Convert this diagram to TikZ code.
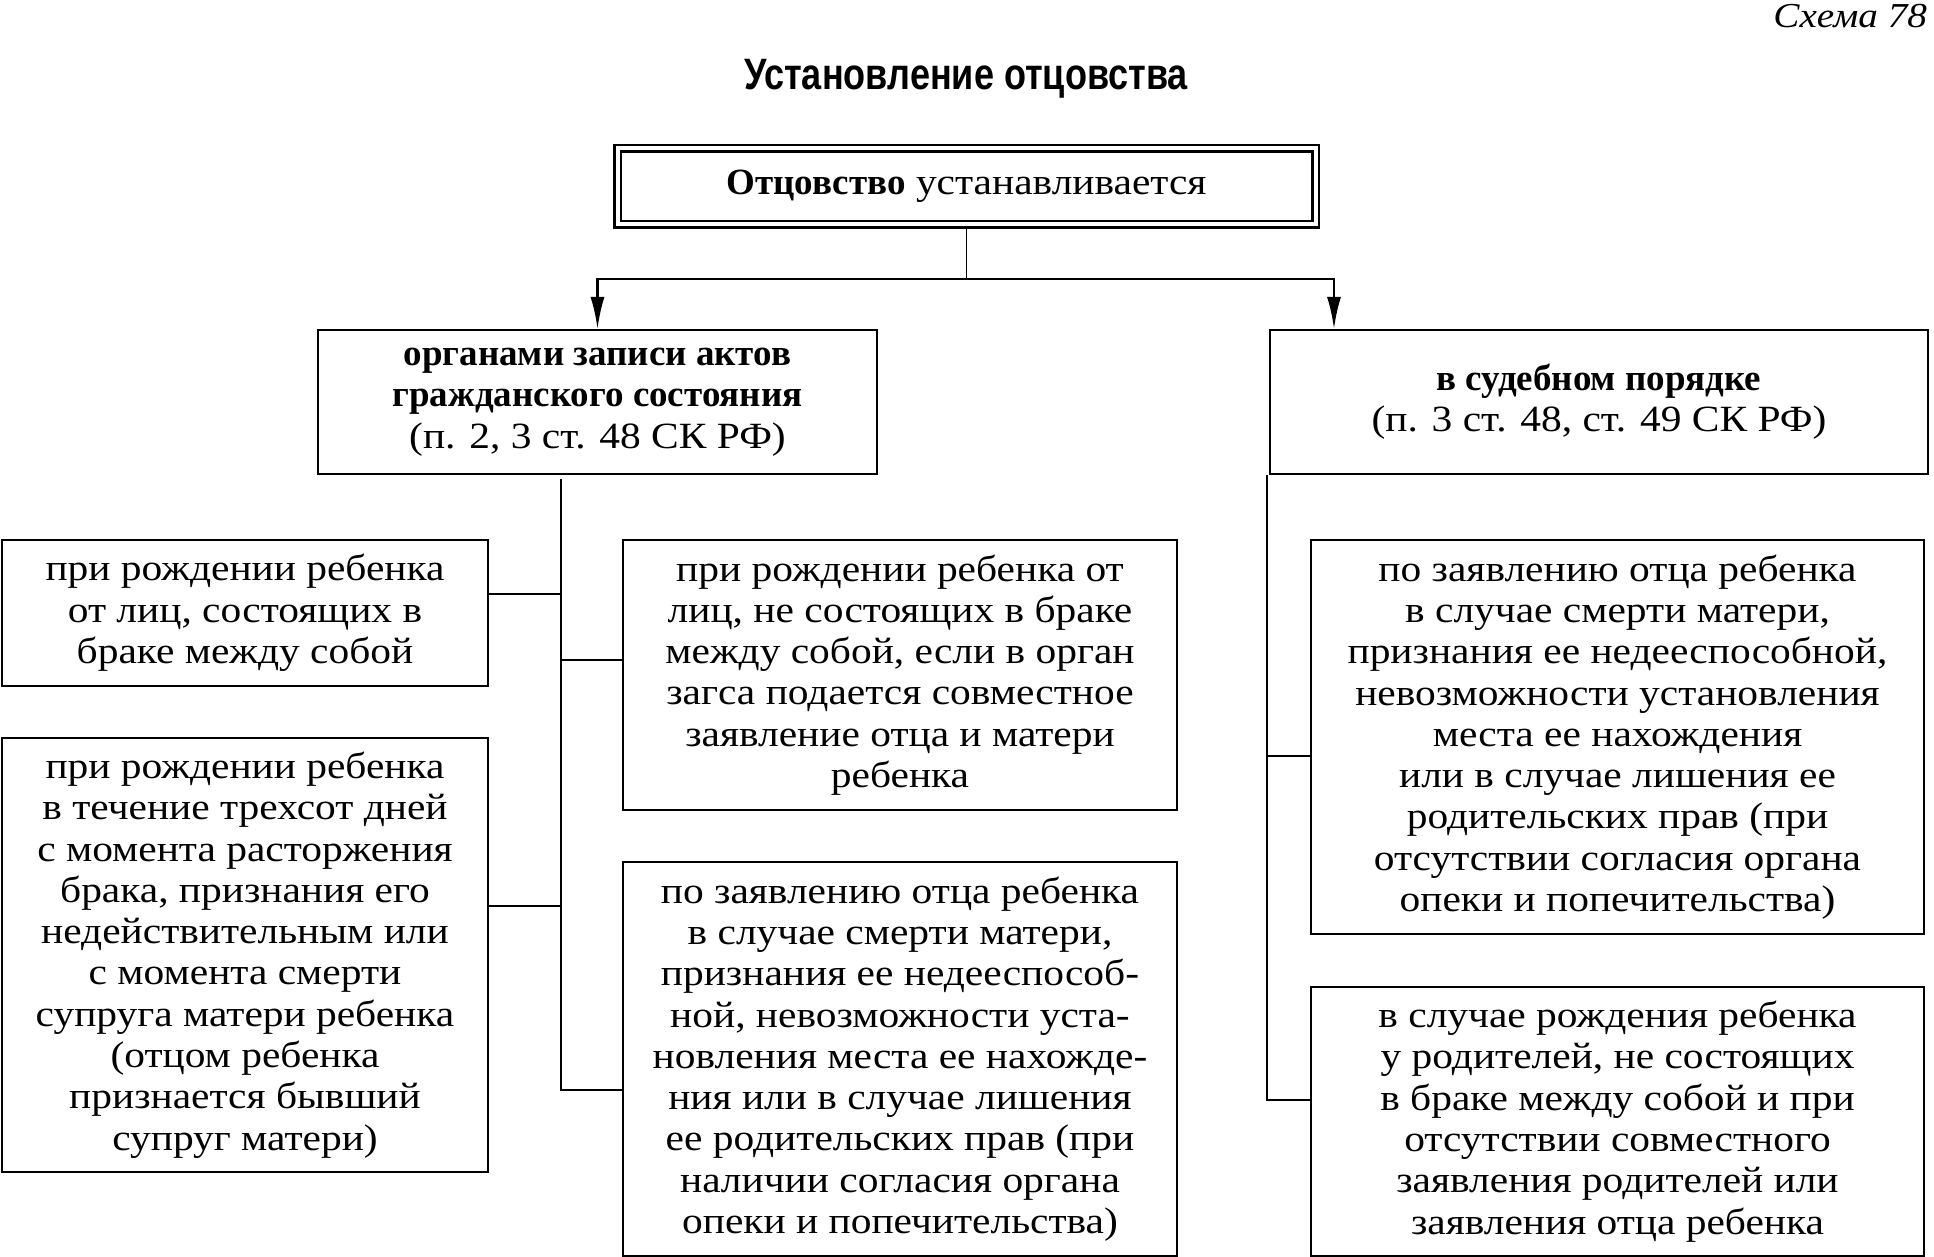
\documentclass[tikz,border=0pt]{standalone}
\usepackage{fontspec}
\setmainfont{Liberation Serif}[FakeStretch=1.12]
\newfontfamily\plainserif{Liberation Serif}
\newfontfamily\titlesans{Liberation Sans}[FakeStretch=0.82]
\newcommand{\bt}[1]{{\plainserif\bfseries #1}}
\usetikzlibrary{arrows.meta,calc,positioning}
\tikzset{>={Latex[length=16pt,width=7pt]}}

\begin{document}
\begin{tikzpicture}[x=0.5pt, y=-0.5pt,
    box/.style={draw, line width=1pt, align=center, inner sep=0pt, font=\fontsize{18.5}{20.65}\selectfont},
    topbox/.style={box, double, line width=1.2pt, double distance=2pt},
    link/.style={line width=0.8pt},
    bar/.style={line width=1.3pt}]
\useasboundingbox (0,0) rectangle (1934,1257);

\node[anchor=east, font=\itshape\fontsize{17.5}{20}\selectfont] (schema) at (1934,16) {Схема 78};
\node[font=\titlesans\bfseries\fontsize{22}{24}\selectfont] (title) at (966,79) {Установление отцовства};

\node[topbox, minimum width=349pt, minimum height=38pt] (est) at (966.5,186.5) {\bt{Отцовство} устанавливается};

\node[box, minimum width=279.5pt, minimum height=72pt] (zags) at (597.5,402)
    {\bt{органами записи актов}\\ \bt{гражданского состояния}\\ (п. 2, 3 ст. 48 СК РФ)};
\node[box, minimum width=329pt, minimum height=72pt] (court) at (1599,402)
    {\bt{в судебном порядке}\\ (п. 3 ст. 48, ст. 49 СК РФ)};

\node[box, minimum width=243pt, minimum height=73pt] (b1) at (245,613)
    {при рождении ребенка\\ от лиц, состоящих в\\ браке между собой};
\node[box, minimum width=243pt, minimum height=217pt] (b2) at (245,955)
    {при рождении ребенка\\ в течение трехсот дней\\ с момента расторжения\\ брака, признания его\\ недействительным или\\ с момента смерти\\ супруга матери ребенка\\ (отцом ребенка\\ признается бывший\\ супруг матери)};
\node[box, minimum width=277pt, minimum height=135pt] (b3) at (900,675)
    {при рождении ребенка от\\ лиц, не состоящих в браке\\ между собой, если в орган\\ загса подается совместное\\ заявление отца и матери\\ ребенка};
\node[box, minimum width=277pt, minimum height=197pt] (b4) at (900,1059)
    {по заявлению отца ребенка\\ в случае смерти матери,\\ признания ее недееспособ-\\ ной, невозможности уста-\\ новления места ее нахожде-\\ ния или в случае лишения\\ ее родительских прав (при\\ наличии согласия органа\\ опеки и попечительства)};
\node[box, minimum width=306.5pt, minimum height=197pt] (b5) at (1617.5,737)
    {по заявлению отца ребенка\\ в случае смерти матери,\\ признания ее недееспособной,\\ невозможности установления\\ места ее нахождения\\ или в случае лишения ее\\ родительских прав (при\\ отсутствии согласия органа\\ опеки и попечительства)};
\node[box, minimum width=306.5pt, minimum height=134.5pt] (b6) at (1617.5,1121.5)
    {в случае рождения ребенка\\ у родителей, не состоящих\\ в браке между собой и при\\ отсутствии совместного\\ заявления родителей или\\ заявления отца ребенка};

% fork below the top box
\coordinate (fork) at (966.5,279);
\coordinate (courtin) at ($(court.north west)+(65,0)$);
\draw[link] (est.south) -- (fork);
\draw[bar,->] (fork) -| (zags.north);
\draw[bar,->] (fork) -| (courtin);

% left trunk
\coordinate (ltop) at (561,479);
\draw[link] ($(b1.east)+(0,-19)$) -| (ltop);
\draw[link] ($(b3.west)+(0,-15)$) -| (ltop);
\draw[link] ($(b2.east)+(0,-49)$) -| (ltop);
\draw[link] ($(b4.west)+(0,31)$) -| (ltop);

% right trunk
\coordinate (rtop) at ($(court.south west)+(-2,0)$);
\draw[link] ($(b5.west)+(0,19)$) -| (rtop);
\draw[link] ($(b6.west)+(0,-21.5)$) -| (rtop);
\end{tikzpicture}
\end{document}
